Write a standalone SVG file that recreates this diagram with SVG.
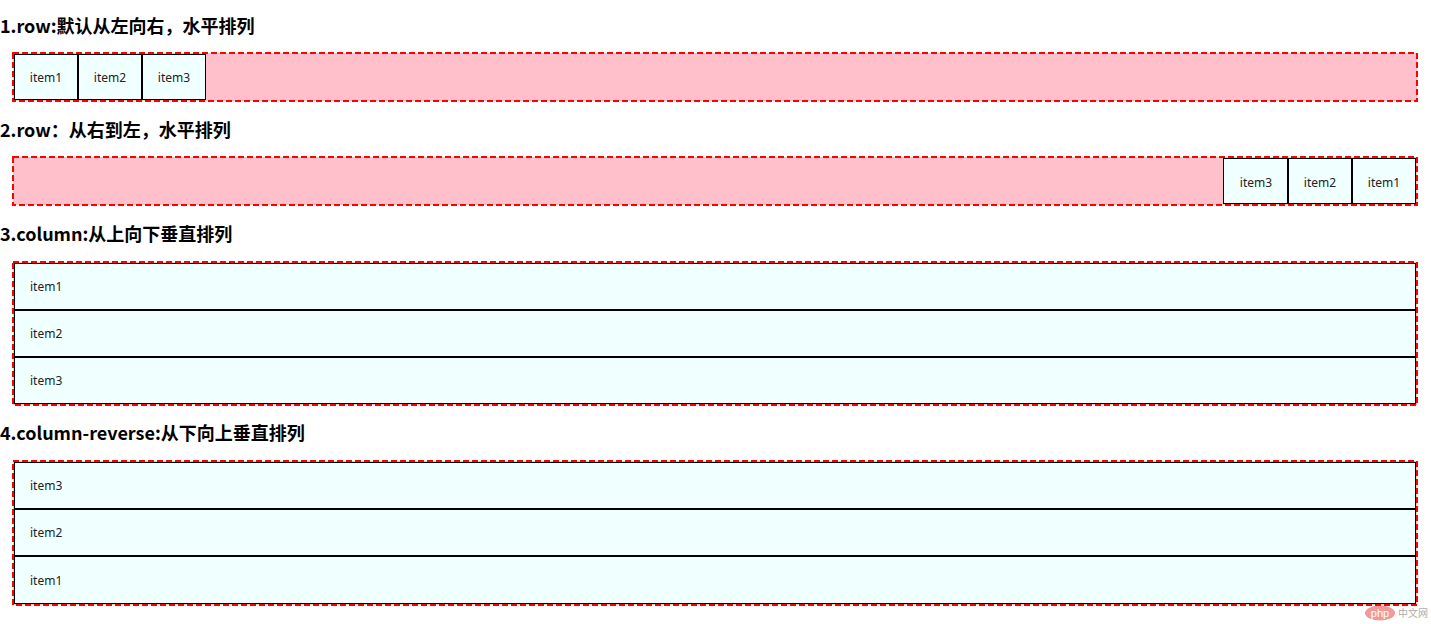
<svg xmlns="http://www.w3.org/2000/svg" width="1431" height="624" viewBox="0 0 1431 624">
<style>
.h{font-family:"Noto Sans CJK SC","Noto Sans",sans-serif;font-weight:bold;font-size:18px;fill:#000}
.box{fill:#ffc0cb;stroke:#ff0000;stroke-width:2;stroke-dasharray:6 3}
.it{fill:#f0ffff;stroke:#000;stroke-width:1}
.t{font-family:"Noto Sans","Liberation Sans",sans-serif;font-size:12px;fill:#222}
.c{text-anchor:middle}
</style>
<rect width="1431" height="624" fill="#fff"/>
<text class="h" x="0" y="33">1.row:默认从左向右，水平排列</text>
<text class="h" x="0" y="137">2.row：从右到左，水平排列</text>
<text class="h" x="0" y="241">3.column:从上向下垂直排列</text>
<text class="h" x="0" y="440">4.column-reverse:从下向上垂直排列</text>

<g id="box1">
<rect class="box" x="13" y="53" width="1404" height="48"/>
<g id="b1-item1"><rect class="it" x="14.5" y="54.5" width="63" height="45"/><text class="t c" x="46" y="82">item1</text></g>
<g id="b1-item2"><rect class="it" x="78.5" y="54.5" width="63" height="45"/><text class="t c" x="110" y="82">item2</text></g>
<g id="b1-item3"><rect class="it" x="142.5" y="54.5" width="63" height="45"/><text class="t c" x="174" y="82">item3</text></g>
</g>

<g id="box2">
<rect class="box" x="13" y="157" width="1404" height="48"/>
<g id="b2-item3"><rect class="it" x="1223.5" y="158.5" width="64" height="45"/><text class="t c" x="1256" y="187">item3</text></g>
<g id="b2-item2"><rect class="it" x="1288.5" y="158.5" width="63" height="45"/><text class="t c" x="1320" y="187">item2</text></g>
<g id="b2-item1"><rect class="it" x="1352.5" y="158.5" width="63" height="45"/><text class="t c" x="1384" y="187">item1</text></g>
</g>

<g id="box3">
<rect class="box" x="13" y="262" width="1404" height="143"/>
<g id="b3-item1"><rect class="it" x="14.5" y="263.5" width="1401" height="46"/><text class="t" x="30" y="291">item1</text></g>
<g id="b3-item2"><rect class="it" x="14.5" y="310.5" width="1401" height="46"/><text class="t" x="30" y="338">item2</text></g>
<g id="b3-item3"><rect class="it" x="14.5" y="357.5" width="1401" height="46"/><text class="t" x="30" y="385">item3</text></g>
</g>

<g id="box4">
<rect class="box" x="13" y="461" width="1404" height="144"/>
<g id="b4-item3"><rect class="it" x="14.5" y="462.5" width="1401" height="46"/><text class="t" x="30" y="490">item3</text></g>
<g id="b4-item2"><rect class="it" x="14.5" y="509.5" width="1401" height="46"/><text class="t" x="30" y="537">item2</text></g>
<g id="b4-item1"><rect class="it" x="14.5" y="556.5" width="1401" height="47"/><text class="t" x="30" y="585">item1</text></g>
</g>

<g id="watermark" opacity="0.6">
<ellipse cx="1380" cy="613" rx="15" ry="7.5" fill="#e8585a"/>
<text x="1380" y="617" text-anchor="middle" style="font-family:'Liberation Sans',sans-serif;font-size:11px;fill:#fff">php</text>
<text x="1398" y="617" style="font-family:'Noto Sans CJK SC',sans-serif;font-size:10px;fill:#777">中文网</text>
</g>
<g id="connectors"/>
</svg>
